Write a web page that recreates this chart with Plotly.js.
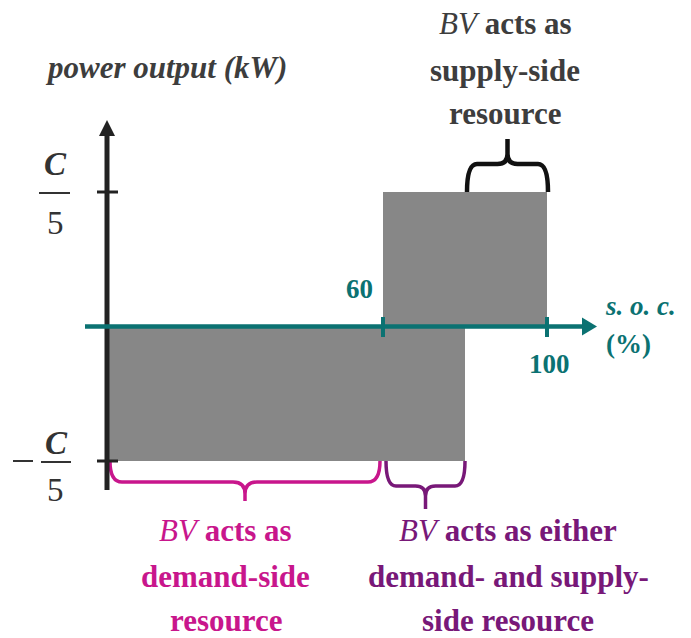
<!DOCTYPE html>
<html>
<head>
<meta charset="utf-8">
<script src="https://cdn.plot.ly/plotly-3.0.1.min.js"></script>
</head>
<body style="margin:0">
<div id="chart"></div>
<script>
// ---- data ----
const regionBounds = [60, 80, 100];          // s.o.c. (%) boundaries
const socTicks = [60, 100];
const socTickLabels = ['60', '100'];
const powerTicks = [1, -1];                   // in units of C/5
const blockPower = [-1, 1];                   // demand block, supply block (C/5 units)
const topLabel = ['<i>BV</i> <b>acts as</b>', '<b>supply-side</b>', '<b>resource</b>'];
const demandLabel = ['<i>BV</i> <b>acts as</b>', '<b>demand-side</b>', '<b>resource</b>'];
const eitherLabel = ['<i>BV</i> <b>acts as either</b>', '<b>demand- and supply-</b>', '<b>side resource</b>'];

// ---- layout geometry ----
const W = 691, H = 638;
const ox = 137, oy = 326.5, sx = 4.1, sy = 134.5;   // pixel origin and scale
const toX = p => (p - ox) / sx;                   // pixel -> data
const toY = p => (oy - p) / sy;
const toPX = x => ox + x * sx;
const toPY = y => oy - y * sy;
const yAxisSoc = toX(107);

const GREY = '#878787', TEAL = '#0b7272', DARK = '#222222', TXT = '#3d3d3d';
const PINK = '#c8168c', PURPLE = '#781878';
const SERIF = 'Times New Roman';

// blocks
const demandSoc = [yAxisSoc, regionBounds[1]];
const supplySoc = [regionBounds[0], regionBounds[2]];
function block(s, p, name) {
  return {type: 'scatter', mode: 'lines', name: name,
    x: [s[0], s[1], s[1], s[0], s[0]], y: [0, 0, p, p, 0],
    fill: 'toself', fillcolor: GREY, line: {width: 0, color: GREY}, hoverinfo: 'skip'};
}
const traces = [block(demandSoc, blockPower[0], 'demand'), block(supplySoc, blockPower[1], 'supply')];

const shapes = [];
// braces
function brace(xa, xb, yEdge, dir, h, tip, r, color, w) {
  const x0 = xa, x1 = xb, xc = (x0 + x1) / 2;
  const yt = toPY(yEdge), yh = yt + dir * h, yp = yt + dir * tip;
  const f = v => v.toFixed(4);
  const P = (a, b) => f(toX(a)) + ',' + f(toY(b));
  const d = 'M' + P(x0, yt) + ' Q' + P(x0, yh) + ' ' + P(x0 + r, yh) + ' L' + P(xc - r, yh) +
    ' Q' + P(xc, yh) + ' ' + P(xc, yh + dir * r) + ' L' + P(xc, yp) +
    ' M' + P(x1, yt) + ' Q' + P(x1, yh) + ' ' + P(x1 - r, yh) + ' L' + P(xc + r, yh) +
    ' Q' + P(xc, yh) + ' ' + P(xc, yh + dir * r);
  shapes.push({type: 'path', xref: 'x', yref: 'y', path: d, line: {color: color, width: w}});
}
brace(toPX(yAxisSoc) + 3, toPX(regionBounds[0]) - 3, blockPower[0], 1, 21, 40, 12, PINK, 3.5);
brace(toPX(regionBounds[0]) + 3, toPX(regionBounds[1]), blockPower[0], 1, 25, 48, 10, PURPLE, 3.5);
brace(toPX(regionBounds[1]) + 2, toPX(regionBounds[2]) + 1, blockPower[1], -1, 28, 53, 10, '#111', 4.5);

// y axis (power)
shapes.push({type: 'line', xref: 'x', yref: 'y', x0: yAxisSoc, x1: yAxisSoc, y0: toY(490), y1: toY(132), line: {color: DARK, width: 5}});
shapes.push({type: 'path', xref: 'x', yref: 'y', fillcolor: DARK, line: {width: 0},
  path: 'M' + toX(99) + ',' + toY(136) + ' L' + toX(107) + ',' + toY(120) + ' L' + toX(115) + ',' + toY(136) + ' Z'});
powerTicks.forEach(v => shapes.push({type: 'line', xref: 'x', yref: 'y', x0: toX(97), x1: toX(118), y0: v, y1: v, line: {color: DARK, width: 3}}));

// x axis (s.o.c.)
shapes.push({type: 'line', xref: 'x', yref: 'y', x0: toX(85), x1: toX(585), y0: 0, y1: 0, line: {color: TEAL, width: 4.5}});
shapes.push({type: 'path', xref: 'x', yref: 'y', fillcolor: TEAL, line: {width: 0},
  path: 'M' + toX(582) + ',' + toY(317.5) + ' L' + toX(597) + ',' + toY(326.5) + ' L' + toX(582) + ',' + toY(335.5) + ' Z'});
socTicks.forEach(v => shapes.push({type: 'line', xref: 'x', yref: 'y', x0: v, x1: v, y0: toY(317), y1: toY(337), line: {color: TEAL, width: 4}}));

// fraction bars and minus sign for C/5 labels
shapes.push({type: 'line', xref: 'paper', yref: 'paper', x0: 39 / W, x1: 70 / W, y0: 1 - 193 / H, y1: 1 - 193 / H, line: {color: '#333', width: 2}});
shapes.push({type: 'line', xref: 'paper', yref: 'paper', x0: 41 / W, x1: 71 / W, y0: 1 - 462 / H, y1: 1 - 462 / H, line: {color: '#333', width: 2}});
shapes.push({type: 'line', xref: 'paper', yref: 'paper', x0: 13 / W, x1: 33 / W, y0: 1 - 461 / H, y1: 1 - 461 / H, line: {color: '#333', width: 2}});

// annotations
const ann = [];
function txt(t, px, py, size, color) {
  ann.push({xref: 'paper', yref: 'paper', x: px / W, y: 1 - py / H, text: t, showarrow: false,
    xanchor: 'center', yanchor: 'middle', font: {family: SERIF, size: size, color: color}});
}
txt('<b><i>power output (kW)</i></b>', 166, 67, 31, TXT);
topLabel.forEach((t, i) => txt(t, 505, [24, 70, 114][i], 31, TXT));
demandLabel.forEach((t, i) => txt(t, 226, [530, 576, 620][i], 31, PINK));
eitherLabel.forEach((t, i) => txt(t, 508, [530, 576, 620][i], 31, PURPLE));
txt('<b><i>C</i></b>', 55, 164, 33, '#333');
txt('5', 55, 223, 33, '#333');
txt('<b><i>C</i></b>', 56, 443, 33, '#333');
txt('5', 55, 490, 33, '#333');
txt('<b>' + socTickLabels[0] + '</b>', toPX(socTicks[0]) - 24, 289, 27, TEAL);
txt('<b>' + socTickLabels[1] + '</b>', toPX(socTicks[1]) + 2, 364, 27, TEAL);
txt('<b><i>s. o. c.</i></b>', 640, 306, 27, TEAL);
txt('<b>(%)</b>', 628, 344, 27, TEAL);

const layout = {
  width: W, height: H, margin: {l: 0, r: 0, t: 0, b: 0},
  font: {family: SERIF},
  paper_bgcolor: '#fff', plot_bgcolor: '#fff', showlegend: false,
  xaxis: {range: [toX(0), toX(W)], visible: false, fixedrange: true},
  yaxis: {range: [toY(H), toY(0)], visible: false, fixedrange: true},
  shapes: shapes, annotations: ann
};
Plotly.newPlot('chart', traces, layout, {staticPlot: true});
</script>
</body>
</html>
